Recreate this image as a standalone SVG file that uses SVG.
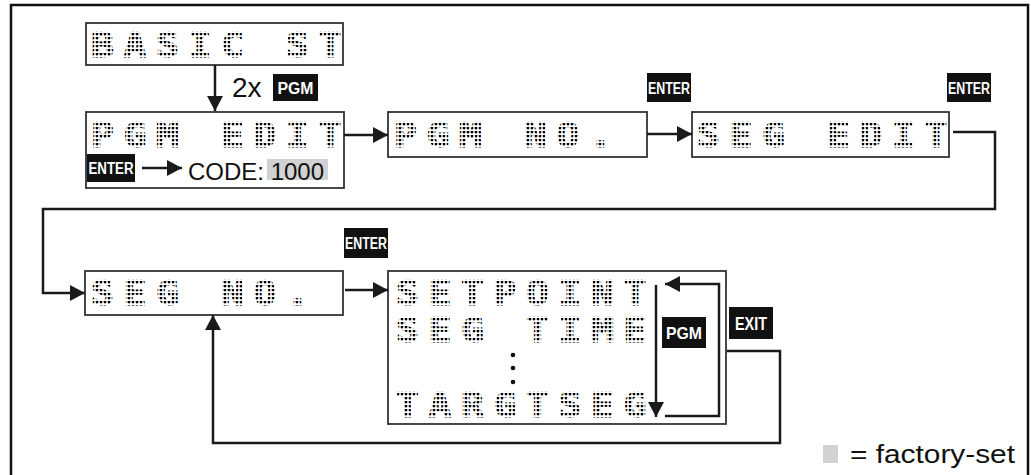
<svg xmlns="http://www.w3.org/2000/svg" width="1031" height="475" viewBox="0 0 1031 475">
<defs>
<pattern id="dots" width="3.478" height="4" patternUnits="userSpaceOnUse"><ellipse cx="1.739" cy="1" rx="1.2" ry="1.38" fill="#000"/></pattern>
<marker id="arr" markerUnits="userSpaceOnUse" markerWidth="16" markerHeight="16" refX="15" refY="8" orient="auto"><path d="M0,0 L15,8 L0,16 z" fill="#1a1a1a"/></marker>
</defs>
<style>
.frame{fill:none;stroke:#111;stroke-width:2.5}
.box{fill:#fff;stroke:#333;stroke-width:1.8}
.dm{font-family:"DejaVu Sans Mono",monospace;font-weight:bold;font-size:33px;letter-spacing:8.4px;fill:url(#dots);stroke:url(#dots);stroke-width:1.1}
.con{fill:none;stroke:#1a1a1a;stroke-width:2.5}
.key{fill:#111}
.kt{font-family:"Liberation Sans",Arial,sans-serif;font-weight:bold;fill:#fff;text-anchor:middle}
.lbl{font-family:"Liberation Sans",Arial,sans-serif;fill:#111}
.fs{fill:#d2d2d2}
</style>
<rect class="frame" x="11" y="5" width="1017" height="480"/>

<g id="basic-st">
<rect class="box" x="86" y="23" width="257" height="42"/>
<text class="dm" transform="translate(91,57) scale(1.15,1)">BASIC ST</text>
</g>

<g id="pgm-edit">
<rect class="box" x="86" y="112" width="258" height="76"/>
<text class="dm" transform="translate(91,147) scale(1.15,1)">PGM EDIT</text>
<rect class="key" x="87" y="154" width="48" height="28"/>
<text class="kt" x="111" y="174" font-size="16" textLength="45" lengthAdjust="spacingAndGlyphs">ENTER</text>
<rect class="fs" x="267" y="159" width="61" height="21"/>
<text class="lbl" x="188" y="180" font-size="24">CODE: 1000</text>
</g>

<g id="pgm-no">
<rect class="box" x="388" y="112" width="259" height="45"/>
<text class="dm" transform="translate(394,147) scale(1.15,1)">PGM NO.</text>
</g>

<g id="seg-edit">
<rect class="box" x="692" y="112" width="257" height="45"/>
<text class="dm" transform="translate(697,147) scale(1.15,1)">SEG EDIT</text>
</g>

<g id="seg-no">
<rect class="box" x="85" y="271" width="258" height="44"/>
<text class="dm" transform="translate(91,305) scale(1.15,1)">SEG NO.</text>
</g>

<g id="setpoint">
<rect class="box" x="388" y="271" width="338" height="153"/>
<text class="dm" transform="translate(396,305) scale(1.15,1)">SETPOINT</text>
<text class="dm" transform="translate(396,342) scale(1.15,1)">SEG TIME</text>
<circle cx="513" cy="355" r="2.3" fill="#111"/>
<circle cx="513" cy="368" r="2.3" fill="#111"/>
<circle cx="513" cy="382" r="2.3" fill="#111"/>
<text class="dm" transform="translate(396,417) scale(1.15,1)">TARGTSEG</text>
</g>

<g id="keys">
<rect class="key" x="273" y="74" width="45" height="27"/>
<text class="kt" x="295.5" y="93.5" font-size="16" textLength="36" lengthAdjust="spacingAndGlyphs">PGM</text>
<rect class="key" x="647" y="73" width="44" height="29"/>
<text class="kt" x="669" y="93.5" font-size="16" textLength="42" lengthAdjust="spacingAndGlyphs">ENTER</text>
<rect class="key" x="947" y="73" width="44" height="29"/>
<text class="kt" x="969" y="93.5" font-size="16" textLength="42" lengthAdjust="spacingAndGlyphs">ENTER</text>
<rect class="key" x="344" y="228" width="44" height="30"/>
<text class="kt" x="366" y="249" font-size="16" textLength="42" lengthAdjust="spacingAndGlyphs">ENTER</text>
<rect class="key" x="662" y="317" width="44" height="31"/>
<text class="kt" x="684" y="338.5" font-size="17" textLength="36" lengthAdjust="spacingAndGlyphs">PGM</text>
<rect class="key" x="729" y="307" width="44" height="32"/>
<text class="kt" x="751" y="329.5" font-size="18" textLength="32" lengthAdjust="spacingAndGlyphs">EXIT</text>
</g>

<g id="connectors">
<path class="con" d="M215,65 V111" marker-end="url(#arr)"/>
<path class="con" d="M142,168 H182" marker-end="url(#arr)"/>
<path class="con" d="M344,135 H388" marker-end="url(#arr)"/>
<path class="con" d="M647,134 H692" marker-end="url(#arr)"/>
<path class="con" d="M953,132 H995 V209 H43 V293 H85" marker-end="url(#arr)"/>
<path class="con" d="M345,290 H388" marker-end="url(#arr)"/>
<path class="con" d="M727,351 H780 V443 H213 V315" marker-end="url(#arr)"/>
<path class="con" d="M656,285 V417" marker-end="url(#arr)"/>
<path class="con" d="M665,416 H719 V284 H665" marker-end="url(#arr)"/>
</g>

<g id="legend">
<rect class="fs" x="823" y="445" width="15" height="18"/>
<text class="lbl" x="850" y="463" font-size="26" textLength="165" lengthAdjust="spacingAndGlyphs">= factory-set</text>
</g>
<text class="lbl" x="232" y="97" font-size="28">2x</text>
</svg>
